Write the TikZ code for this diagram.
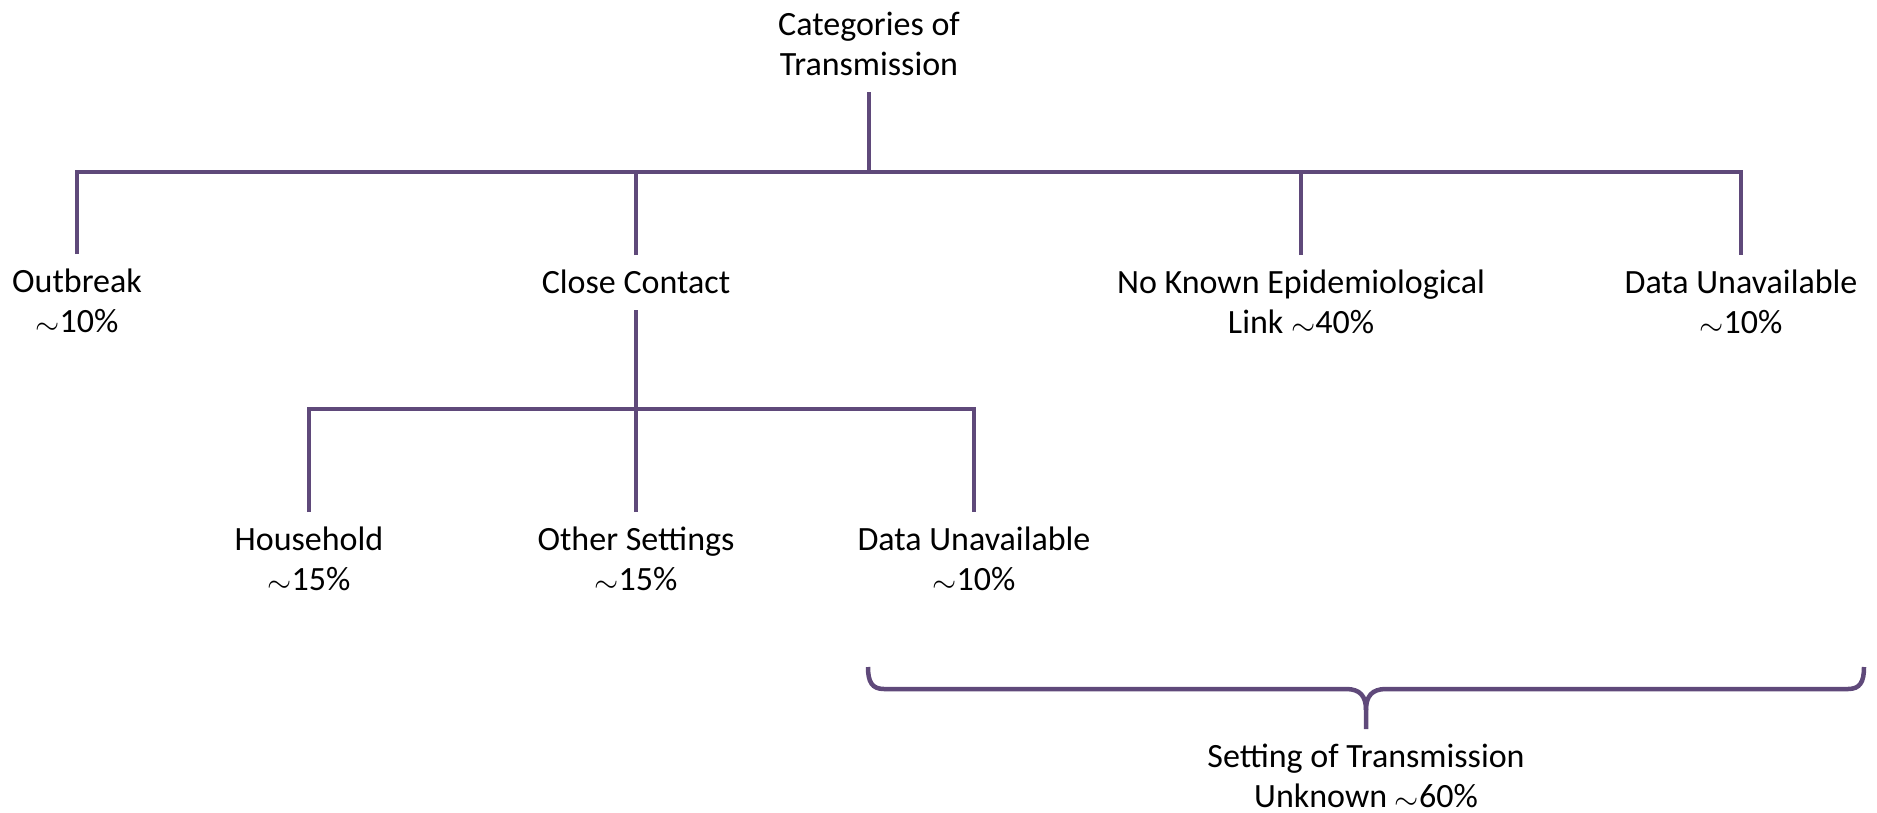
\documentclass[tikz,border=0pt]{standalone}
\usepackage{graphicx}
\usepackage{fontspec}
\setmainfont{Carlito}
\definecolor{lineclr}{HTML}{5F497A}
\newcommand{\lnst}{\rule[-9pt]{0pt}{39pt}}
\newcommand{\apx}{\raisebox{-2pt}{\scalebox{1.25}{$\sim$}}}
\begin{document}
\begin{tikzpicture}[x=1pt,y=-1pt,
  lbl/.style={anchor=north, align=center, inner sep=0pt, outer sep=8pt, font=\fontsize{34}{40}\selectfont},
  conn/.style={draw=lineclr, line width=4.5pt}]
\useasboundingbox (0,0) rectangle (1877,812);
% level 0
\node[lbl] (title) at (869,-3) {\lnst Categories of\\\lnst Transmission};
\coordinate (j0) at (869,172);
% level 1
\node[lbl] (outbreak) at (77,254) {\lnst Outbreak\\\lnst \apx10\%};
\node[lbl] (close) at (636,255) {\lnst Close Contact};
\node[lbl] (noknown) at (1301,255) {\lnst No Known Epidemiological\\\lnst Link \apx40\%};
\node[lbl] (dataA) at (1741,255) {\lnst Data Unavailable\\\lnst \apx10\%};
\coordinate (j1) at (636,409);
% level 2
\node[lbl] (household) at (309,512) {\lnst Household\\\lnst \apx15\%};
\node[lbl] (other) at (636,512) {\lnst Other Settings\\\lnst \apx15\%};
\node[lbl] (dataB) at (974,512) {\lnst Data Unavailable\\\lnst \apx10\%};
% brace label
\node[lbl] (setting) at (1366,729) {\lnst Setting of Transmission\\\lnst Unknown \apx60\%};
% connectors
\draw[conn] (title.south) -- (j0);
\draw[conn] (outbreak.north) |- (j0) -| (dataA.north);
\draw[conn] (close.north) -- (close.north |- j0);
\draw[conn] (noknown.north) -- (noknown.north |- j0);
\draw[conn] (close.south) -- (j1);
\draw[conn] (household.north) |- (j1) -| (dataB.north);
\draw[conn] (other.north) -- (j1);
% brace
\coordinate (bl) at (868,667);
\coordinate (br) at (1864,667);
\coordinate (bm) at (1366,710);
\draw[conn] (bl) .. controls (868,682) and (872,689) .. (884,689) -- (1346,689) .. controls (1360,689) and (1366,696) .. (bm) -- (setting.north);
\draw[conn] (br) .. controls (1864,682) and (1860,689) .. (1848,689) -- (1386,689) .. controls (1372,689) and (1366,696) .. (bm);
\end{tikzpicture}
\end{document}
